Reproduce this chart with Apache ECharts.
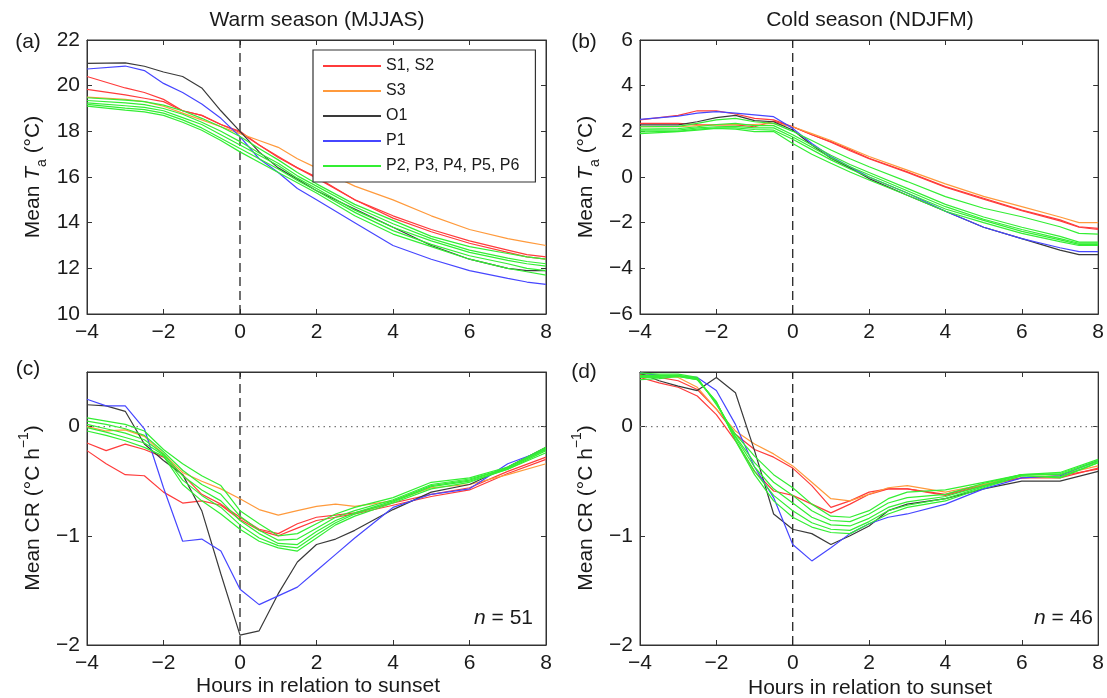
<!DOCTYPE html>
<html>
<head>
<meta charset="utf-8">
<script src="https://cdn.jsdelivr.net/npm/echarts@6/dist/echarts.min.js"></script>
<style>
  html, body { margin: 0; padding: 0; background: #fff; }
  #chart { width: 1107px; height: 698px; }
</style>
</head>
<body>
<div id="chart"></div>
<script>
// x values (hours in relation to sunset)
const hoursT = [-4, -3, -2.5, -2, -1.5, -1, -0.5, 0, 0.5, 1, 1.5, 2, 3, 4, 5, 6, 7, 7.5, 8]
const hoursCR = [-4, -3.5, -3, -2.5, -2, -1.5, -1, -0.5, 0, 0.5, 1, 1.5, 2, 2.5, 3, 4, 5, 6, 7, 8]

// (a) warm season mean Ta
const aS1 = [20.4, 19.9, 19.7, 19.4, 18.9, 18.7, 18.3, 18.0, 17.4, 16.9, 16.4, 16.0, 15.0, 14.3, 13.7, 13.2, 12.8, 12.6, 12.5]
const aS2 = [19.84, 19.6, 19.45, 19.3, 18.9, 18.7, 18.3, 17.95, 17.4, 16.85, 16.4, 15.95, 15.0, 14.2, 13.6, 13.1, 12.7, 12.5, 12.4]
const aS3 = [19.5, 19.4, 19.3, 19.1, 18.8, 18.5, 18.2, 17.9, 17.6, 17.3, 16.8, 16.4, 15.6, 15.0, 14.3, 13.7, 13.3, 13.15, 13.0]
const aO1 = [20.98, 21.0, 20.85, 20.6, 20.4, 19.9, 18.9, 18.0, 17.1, 16.4, 15.9, 15.4, 14.6, 13.8, 13.0, 12.4, 12.0, 11.9, 11.9]
const aP1 = [20.73, 20.86, 20.66, 20.1, 19.7, 19.2, 18.57, 17.77, 16.8, 16.2, 15.5, 15.0, 14.0, 13.0, 12.4, 11.9, 11.56, 11.4, 11.3]
const aP2 = [19.47, 19.37, 19.3, 19.15, 18.9, 18.57, 18.2, 17.77, 17.25, 16.75, 16.2, 15.7, 14.8, 14.1, 13.4, 12.95, 12.65, 12.5, 12.4]
const aP3 = [19.35, 19.25, 19.17, 19.0, 18.75, 18.4, 18.0, 17.55, 17.05, 16.6, 16.05, 15.6, 14.7, 13.95, 13.3, 12.8, 12.45, 12.3, 12.2]
const aP4 = [19.25, 19.12, 19.05, 18.9, 18.6, 18.3, 17.85, 17.4, 16.95, 16.5, 15.95, 15.5, 14.55, 13.8, 13.2, 12.7, 12.35, 12.2, 12.1]
const aP5 = [19.18, 19.02, 18.95, 18.8, 18.5, 18.15, 17.7, 17.25, 16.8, 16.35, 15.85, 15.4, 14.45, 13.65, 13.05, 12.55, 12.2, 12.0, 11.9]
const aP6 = [19.1, 18.93, 18.85, 18.7, 18.4, 18.05, 17.6, 17.1, 16.65, 16.2, 15.75, 15.3, 14.3, 13.5, 12.95, 12.4, 12.0, 11.85, 11.7]

// (b) cold season mean Ta
const bS1 = [2.5, 2.7, 2.9, 2.9, 2.76, 2.57, 2.5, 2.2, 1.85, 1.55, 1.2, 0.82, 0.23, -0.42, -0.93, -1.45, -1.88, -2.18, -2.25]
const bS2 = [2.35, 2.35, 2.3, 2.28, 2.28, 2.2, 2.45, 2.2, 1.85, 1.52, 1.15, 0.8, 0.2, -0.45, -0.97, -1.48, -1.92, -2.2, -2.3]
const bS3 = [2.2, 2.2, 2.25, 2.28, 2.3, 2.3, 2.35, 2.2, 1.9, 1.6, 1.25, 0.9, 0.3, -0.3, -0.85, -1.3, -1.75, -2.0, -2.0]
const bO1 = [2.28, 2.28, 2.42, 2.6, 2.7, 2.47, 2.42, 2.06, 1.4, 0.82, 0.4, -0.07, -0.8, -1.5, -2.2, -2.7, -3.2, -3.4, -3.4]
const bP1 = [2.52, 2.67, 2.8, 2.86, 2.8, 2.72, 2.64, 2.13, 1.47, 0.9, 0.45, 0.0, -0.7, -1.5, -2.2, -2.7, -3.1, -3.27, -3.27]
const bP2 = [2.2, 2.22, 2.35, 2.5, 2.57, 2.42, 2.35, 2.0, 1.6, 1.18, 0.8, 0.45, -0.2, -0.86, -1.37, -1.74, -2.18, -2.47, -2.5]
const bP3 = [2.1, 2.12, 2.2, 2.3, 2.35, 2.25, 2.25, 1.85, 1.4, 0.95, 0.55, 0.2, -0.5, -1.2, -1.75, -2.2, -2.6, -2.85, -2.85]
const bP4 = [2.05, 2.05, 2.15, 2.2, 2.22, 2.15, 2.15, 1.75, 1.3, 0.85, 0.45, 0.1, -0.6, -1.3, -1.85, -2.3, -2.7, -2.9, -2.9]
const bP5 = [1.98, 2.0, 2.1, 2.15, 2.15, 2.08, 2.05, 1.65, 1.2, 0.75, 0.35, 0.0, -0.7, -1.4, -1.9, -2.38, -2.75, -2.95, -2.95]
const bP6 = [1.9, 1.99, 2.05, 2.13, 2.1, 1.99, 1.99, 1.47, 1.0, 0.6, 0.22, -0.13, -0.8, -1.5, -2.0, -2.47, -2.83, -3.0, -3.0]

// (c) warm season mean CR
const cS1 = [-0.15, -0.22, -0.16, -0.21, -0.28, -0.44, -0.62, -0.71, -0.83, -0.94, -0.98, -0.89, -0.83, -0.81, -0.79, -0.7, -0.62, -0.56, -0.41, -0.28]
const cS2 = [-0.22, -0.34, -0.44, -0.45, -0.6, -0.7, -0.68, -0.72, -0.85, -0.95, -1.0, -0.93, -0.86, -0.83, -0.8, -0.72, -0.64, -0.58, -0.43, -0.3]
const cS3 = [0.0, -0.04, -0.03, -0.09, -0.25, -0.42, -0.5, -0.57, -0.66, -0.76, -0.81, -0.77, -0.73, -0.71, -0.73, -0.68, -0.56, -0.53, -0.44, -0.34]
const cO1 = [0.2, 0.19, 0.14, -0.16, -0.31, -0.44, -0.77, -1.35, -1.91, -1.87, -1.53, -1.24, -1.08, -1.03, -0.95, -0.76, -0.6, -0.53, -0.37, -0.19]
const cP1 = [0.25, 0.19, 0.19, -0.02, -0.56, -1.05, -1.03, -1.14, -1.49, -1.63, -1.55, -1.47, -1.32, -1.17, -1.02, -0.74, -0.62, -0.57, -0.34, -0.21]
const cP2 = [0.08, 0.05, 0.02, -0.04, -0.21, -0.34, -0.45, -0.54, -0.77, -0.89, -1.0, -0.98, -0.89, -0.8, -0.74, -0.65, -0.51, -0.47, -0.37, -0.19]
const cP3 = [0.05, 0.02, -0.02, -0.08, -0.23, -0.4, -0.53, -0.62, -0.82, -0.95, -1.04, -1.03, -0.93, -0.83, -0.77, -0.67, -0.53, -0.48, -0.38, -0.2]
const cP4 = [0.02, -0.02, -0.06, -0.12, -0.25, -0.45, -0.58, -0.68, -0.86, -0.98, -1.07, -1.08, -0.96, -0.86, -0.79, -0.68, -0.54, -0.49, -0.38, -0.21]
const cP5 = [-0.01, -0.05, -0.1, -0.15, -0.26, -0.49, -0.63, -0.74, -0.9, -1.02, -1.09, -1.11, -0.99, -0.88, -0.8, -0.69, -0.55, -0.5, -0.39, -0.22]
const cP6 = [-0.04, -0.08, -0.13, -0.19, -0.27, -0.53, -0.68, -0.8, -0.94, -1.05, -1.11, -1.14, -1.02, -0.9, -0.82, -0.7, -0.57, -0.51, -0.39, -0.24]

// (d) cold season mean CR
const dS1 = [0.48, 0.45, 0.42, 0.34, 0.16, -0.07, -0.21, -0.28, -0.38, -0.54, -0.74, -0.68, -0.6, -0.57, -0.57, -0.62, -0.53, -0.47, -0.47, -0.38]
const dS2 = [0.45, 0.4, 0.36, 0.28, 0.11, -0.13, -0.41, -0.59, -0.63, -0.71, -0.79, -0.71, -0.62, -0.57, -0.57, -0.63, -0.54, -0.47, -0.45, -0.39]
const dS3 = [0.49, 0.47, 0.45, 0.36, 0.16, -0.04, -0.16, -0.25, -0.36, -0.51, -0.66, -0.68, -0.62, -0.56, -0.54, -0.6, -0.53, -0.44, -0.44, -0.36]
const dO1 = [0.49, 0.42, 0.37, 0.33, 0.45, 0.31, -0.22, -0.8, -0.94, -0.98, -1.08, -1.0, -0.91, -0.77, -0.71, -0.66, -0.57, -0.5, -0.5, -0.41]
const dP1 = [0.49, 0.47, 0.46, 0.45, 0.33, 0.02, -0.37, -0.65, -1.08, -1.23, -1.11, -0.98, -0.89, -0.83, -0.8, -0.71, -0.57, -0.47, -0.45, -0.31]
const dP2 = [0.49, 0.48, 0.48, 0.45, 0.2, -0.07, -0.27, -0.44, -0.56, -0.71, -0.82, -0.83, -0.77, -0.66, -0.6, -0.58, -0.51, -0.44, -0.42, -0.3]
const dP3 = [0.47, 0.47, 0.47, 0.44, 0.22, -0.09, -0.33, -0.51, -0.63, -0.77, -0.86, -0.87, -0.8, -0.7, -0.65, -0.62, -0.52, -0.44, -0.43, -0.31]
const dP4 = [0.46, 0.46, 0.47, 0.44, 0.22, -0.1, -0.37, -0.57, -0.7, -0.83, -0.9, -0.91, -0.84, -0.74, -0.69, -0.64, -0.54, -0.44, -0.44, -0.32]
const dP5 = [0.45, 0.45, 0.46, 0.43, 0.22, -0.12, -0.41, -0.63, -0.77, -0.88, -0.94, -0.95, -0.87, -0.77, -0.72, -0.66, -0.55, -0.45, -0.46, -0.33]
const dP6 = [0.43, 0.44, 0.46, 0.43, 0.23, -0.13, -0.44, -0.68, -0.83, -0.92, -0.97, -0.98, -0.89, -0.8, -0.74, -0.68, -0.56, -0.45, -0.47, -0.33]

// axis ranges per panel
const yMin = [10, -6, -2, -2]
const yMax = [22, 6, 0.5, 0.5]
const yStep = [2, 2, 1, 1]

const RED = '#ff3b3b'
const ORANGE = '#ff9a3c'
const BLACK = '#3a3a3a'
const BLUE = '#4646ff'
const GREEN = '#33ee33'
const FONT = 'Liberation Sans'
const FS = 21

const grids = [
  { left: 87, top: 40, width: 459, height: 274 },
  { left: 640, top: 40, width: 460, height: 274 },
  { left: 87, top: 372, width: 459, height: 273 },
  { left: 640, top: 372, width: 460, height: 273 }
]

const line = (name, color, xs, ys, g) => ({
  name,
  type: 'line',
  xAxisIndex: g,
  yAxisIndex: g,
  symbol: 'none',
  silent: true,
  lineStyle: { color, width: 1.2 },
  itemStyle: { color },
  data: xs.map((x, i) => [x, ys[i]])
})

const panels = [
  [hoursT, aS1, aS2, aS3, aO1, aP1, [aP2, aP3, aP4, aP5, aP6]],
  [hoursT, bS1, bS2, bS3, bO1, bP1, [bP2, bP3, bP4, bP5, bP6]],
  [hoursCR, cS1, cS2, cS3, cO1, cP1, [cP2, cP3, cP4, cP5, cP6]],
  [hoursCR, dS1, dS2, dS3, dO1, dP1, [dP2, dP3, dP4, dP5, dP6]]
]

const series = []
panels.forEach((p, g) => {
  const [xs, s1, s2, s3, o1, p1, greens] = p
  // sunset line
  series.push({
    type: 'line', xAxisIndex: g, yAxisIndex: g, symbol: 'none', silent: true,
    lineStyle: { color: '#222', width: 1.3, type: [9, 5] },
    data: [[0, yMin[g]], [0, yMax[g]]]
  })
  if (g >= 2) {
    series.push({
      type: 'line', xAxisIndex: g, yAxisIndex: g, symbol: 'none', silent: true,
      lineStyle: { color: '#777', width: 1.3, type: [1.5, 4] },
      data: [[-4, 0], [8, 0]]
    })
  }
  series.push(line('S1, S2', RED, xs, s1, g))
  series.push(line('S1, S2', RED, xs, s2, g))
  series.push(line('S3', ORANGE, xs, s3, g))
  series.push(line('O1', BLACK, xs, o1, g))
  series.push(line('P1', BLUE, xs, p1, g))
  greens.forEach(v => series.push(line('P2, P3, P4, P5, P6', GREEN, xs, v, g)))
})

const axisLine = { show: true, onZero: false, lineStyle: { color: '#333', width: 1 } }
const tick = { show: true, inside: true, length: 5, lineStyle: { color: '#333' } }
const lab = {
  color: '#1a1a1a', fontSize: FS, fontFamily: FONT,
  // only whole ticks get a label; minus drawn as a real minus sign
  formatter: v => (Number.isInteger(v) ? String(v).replace('-', '\u2212') : '')
}

const xAxis = []
const yAxis = []
grids.forEach((_, g) => {
  xAxis.push({
    type: 'value', gridIndex: g, min: -4, max: 8, interval: 2, position: 'bottom',
    axisLine, axisTick: tick, splitLine: { show: false },
    axisLabel: { ...lab, margin: 8 }
  })
  yAxis.push({
    type: 'value', gridIndex: g, min: yMin[g], max: yMax[g], interval: yStep[g], position: 'left',
    axisLine, axisTick: tick, splitLine: { show: false },
    axisLabel: { ...lab, margin: 7 }
  })
})
grids.forEach((_, g) => {
  xAxis.push({
    type: 'value', gridIndex: g, min: -4, max: 8, interval: 2, position: 'top',
    axisLine, axisTick: tick, splitLine: { show: false }, axisLabel: { show: false }
  })
  yAxis.push({
    type: 'value', gridIndex: g, min: yMin[g], max: yMax[g], interval: yStep[g], position: 'right',
    axisLine, axisTick: tick, splitLine: { show: false }, axisLabel: { show: false }
  })
})

const txt = (x, y, text, opts = {}) => ({
  type: 'text', x, y, silent: true, rotation: opts.rotation || 0,
  style: {
    text, fill: '#1a1a1a', fontSize: opts.fontSize || FS, fontFamily: FONT,
    align: opts.align || 'center', verticalAlign: 'middle', rich: opts.rich
  }
})

const richT = {
  n: { fontSize: FS, fontFamily: FONT, fill: '#1a1a1a', lineHeight: 26 },
  i: { fontSize: FS, fontFamily: FONT, fill: '#1a1a1a', fontStyle: 'italic', lineHeight: 26 },
  s: { fontSize: 14, fontFamily: FONT, fill: '#1a1a1a', lineHeight: 32, verticalAlign: 'bottom' },
  sup: { fontSize: 14, fontFamily: FONT, fill: '#1a1a1a', lineHeight: 32, verticalAlign: 'top' }
}
const taName = '{n|Mean }{i|T}{s|a}{n| (°C)}'
const crName = '{n|Mean CR (°C h}{sup|−1}{n|)}'

const graphic = [
  txt(317, 20, 'Warm season (MJJAS)'),
  txt(870, 20, 'Cold season (NDJFM)'),
  txt(28, 42, '(a)'),
  txt(584, 42, '(b)'),
  txt(28, 369, '(c)'),
  txt(584, 372, '(d)'),
  txt(318, 686, 'Hours in relation to sunset'),
  txt(870, 688, 'Hours in relation to sunset'),
  txt(33, 177, taName, { rotation: Math.PI / 2, rich: richT }),
  txt(586, 177, taName, { rotation: Math.PI / 2, rich: richT }),
  txt(33, 508, crName, { rotation: Math.PI / 2, rich: richT }),
  txt(586, 508, crName, { rotation: Math.PI / 2, rich: richT }),
  txt(533, 618, '{i|n}{n| = 51}', { align: 'right', rich: richT }),
  txt(1093, 618, '{i|n}{n| = 46}', { align: 'right', rich: richT })
]

const chart = echarts.init(document.getElementById('chart'))
chart.setOption({
  animation: false,
  backgroundColor: '#fff',
  grid: grids.map(g => ({ ...g, show: true, borderColor: '#333', borderWidth: 1, backgroundColor: 'transparent' })),
  xAxis,
  yAxis,
  legend: {
    orient: 'vertical',
    left: 313,
    top: 50,
    data: ['S1, S2', 'S3', 'O1', 'P1', 'P2, P3, P4, P5, P6'],
    icon: 'rect',
    itemWidth: 58,
    itemHeight: 2,
    itemGap: 9,
    padding: [8, 16, 8, 10],
    borderColor: '#333',
    borderWidth: 1.2,
    backgroundColor: '#fff',
    selectedMode: false,
    textStyle: { fontSize: 16, fontFamily: FONT, color: '#1a1a1a', lineHeight: 16 }
  },
  graphic,
  series
})
</script>
</body>
</html>
